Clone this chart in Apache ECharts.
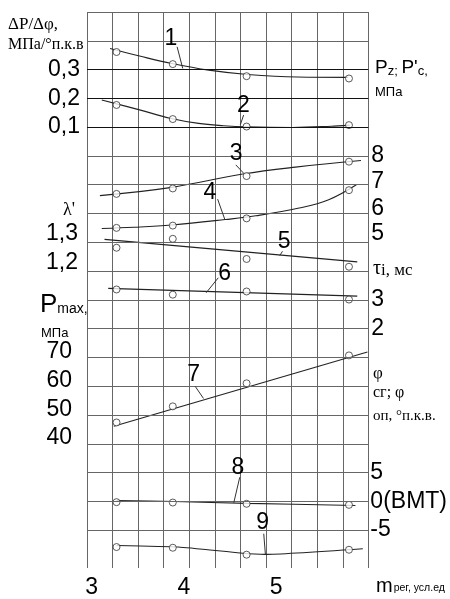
<!DOCTYPE html>
<html><head><meta charset="utf-8">
<script src="https://cdn.jsdelivr.net/npm/echarts@6/dist/echarts.min.js"></script>
<style>html,body{margin:0;padding:0;background:#fff}#c{width:450px;height:599px}</style>
</head><body><div id="c"></div>
<script>
// ---------------- data ----------------
const mReg = [3.27, 3.88, 4.68, 5.79];            // experimental points, m рег
const xTicks = [3, 4, 5];
const dpTicks = [0.3, 0.2, 0.1];                   // ΔP/Δφ, МПа/°п.к.в
const lambdaTicks = [1.3, 1.2];                    // λ'
const pmaxTicks = [70, 60, 50, 40];                // Pmax, МПа
const rightTicks = [8, 7, 6, 5, 3, 2];             // Pz; P'c ... τi
const phiTicks = [5, 0, -5];                       // φ сг; φ оп
const phiTickText = {'5': '5', '0': '0(ВМТ)', '-5': '-5'};

// curve 1, 2 (ΔP/Δφ scale)
const c1Pts = [0.361, 0.319, 0.277, 0.269];
const c1FitM = [3.20, 3.52, 3.87, 4.27, 4.69, 5.23, 5.78];
const c1Fit = [0.373, 0.347, 0.321, 0.298, 0.283, 0.274, 0.273];
const c2Pts = [0.177, 0.128, 0.102, 0.107];
const c2FitM = [3.11, 3.52, 3.85, 4.16, 4.43, 4.68, 5.18, 5.60, 5.80];
const c2Fit = [0.194, 0.160, 0.131, 0.113, 0.105, 0.101, 0.099, 0.103, 0.107];
// curve 3, 4, 6 (right scale)
const c3Pts = [6.68, 6.87, 7.30, 7.80];
const c3FitM = [3.09, 3.85, 4.64, 5.21, 5.92];
const c3Fit = [6.62, 6.90, 7.37, 7.61, 7.84];
const c4Pts = [5.50, 5.58, 5.83, 6.81];
const c4FitM = [3.11, 3.46, 3.87, 4.45, 4.78, 5.25, 5.57, 5.87];
const c4Fit = [5.48, 5.52, 5.60, 5.79, 5.92, 6.19, 6.48, 7.00];
const c6Pts = [3.36, 3.18, 3.29, 3.01];
const c6FitM = [3.18, 5.88];
const c6Fit = [3.40, 3.13];
// curve 5 (λ')
const c5Pts = [1.251, 1.282, 1.212, 1.185];
const c5FitM = [3.14, 5.88];
const c5Fit = [1.280, 1.202];
// curve 7 (Pmax)
const c7Pts = [45.4, 51.0, 59.0, 68.7];
const c7FitM = [3.24, 5.99];
const c7Fit = [44.1, 69.9];
// curve 8, 9 (φ)
const c8Pts = [-0.14, -0.21, -0.43, -0.61];
const c8FitM = [3.27, 3.90, 4.69, 5.86];
const c8Fit = [0.13, -0.04, -0.35, -0.73];
const c9Pts = [-7.94, -8.06, -9.27, -8.41];
const c9FitM = [3.27, 3.94, 4.61, 4.88, 5.94];
const c9Fit = [-7.66, -7.94, -8.97, -9.22, -8.23];

// ---------------- layout ----------------
const SANS = '"Liberation Sans", Arial, sans-serif';
const SERIF = '"Liberation Serif", "Times New Roman", serif';
const ROWS = 19.316;                       // grid height in cells (last cell is taller)
const gridRows = [0,1,2,3,4,5,6,7,8,9,10,11,12,13,14,15,16,17,18];
const boldRows = [2,3,4];
const rightShift = {7: 3, 6: 5, 5: 9};     // label nudges (px) as in the original

// axis index map: 0 rows, 1 dp, 2 lambda, 3 pmax, 4 right, 5 phi
const AX = {rows: 0, dp: 1, lambda: 2, pmax: 3, right: 4, phi: 5};

// curve tags: text anchor and leader line (in the curve's own units)
const tags = [
  {n: '1', at: [3.86, 0.409], from: [3.927, 0.379], to: [3.988, 0.304]},
  {n: '2', at: [4.646, 0.175], from: [4.648, 0.142], to: [4.612, 0.108]},
  {n: '3', at: [4.567, 8.07], from: [4.563, 7.69], to: [4.648, 7.40]},
  {n: '4', at: [4.282, 6.72], from: [4.366, 6.50], to: [4.445, 5.785]},
  {n: '5', at: [5.087, 1.2706], from: [5.069, 1.2387], to: [5.04, 1.2238]},
  {n: '6', at: [4.443, 3.897], from: [4.373, 3.766], to: [4.242, 3.246]},
  {n: '7', at: [4.106, 62.16], from: [4.124, 57.9], to: [4.213, 53.74]},
  {n: '8', at: [4.587, 5.89], from: [4.606, 4.19], to: [4.541, -0.26]},
  {n: '9', at: [4.855, -3.64], from: [4.866, -5.63], to: [4.884, -9.22]}
];

const curves = [
  {ax: 'dp', pts: c1Pts, fm: c1FitM, fv: c1Fit, smooth: 0.4},
  {ax: 'dp', pts: c2Pts, fm: c2FitM, fv: c2Fit, smooth: 0.4},
  {ax: 'right', pts: c3Pts, fm: c3FitM, fv: c3Fit, smooth: 0.4},
  {ax: 'right', pts: c4Pts, fm: c4FitM, fv: c4Fit, smooth: 0.4},
  {ax: 'lambda', pts: c5Pts, fm: c5FitM, fv: c5Fit, smooth: 0},
  {ax: 'right', pts: c6Pts, fm: c6FitM, fv: c6Fit, smooth: 0},
  {ax: 'pmax', pts: c7Pts, fm: c7FitM, fv: c7Fit, smooth: 0},
  {ax: 'phi', pts: c8Pts, fm: c8FitM, fv: c8Fit, smooth: 0.3},
  {ax: 'phi', pts: c9Pts, fm: c9FitM, fv: c9Fit, smooth: 0.15}
];

function zip(a, b) { return a.map((v, i) => [v, b[i]]); }

function labelAxis(min, max, pos, ticks, fmt, margin, rich) {
  return {
    type: 'value', min: Math.min(min, max), max: Math.max(min, max), position: pos, offset: 0,
    axisLine: {show: false}, axisTick: {show: false}, splitLine: {show: false},
    axisLabel: {
      show: true, customValues: ticks, formatter: fmt, margin: margin,
      fontSize: 23, fontFamily: SANS, color: '#000', rich: rich
    }
  };
}
const comma = v => String(v).replace('.', ',');
const richRight = {};
Object.keys(rightShift).forEach(k => {
  const s = rightShift[k];
  richRight['u' + s] = {fontSize: 23, fontFamily: SANS, color: '#000', padding: [0, 0, 2 * s, 0]};
});

const yAxis = [
  {type: 'value', inverse: true, min: 0, max: ROWS, show: false},
  labelAxis(0.3 + 0.2, 0.3 - (ROWS - 2) * 0.1, 'left', dpTicks, comma, 7),
  labelAxis(1.3 + 7.7 * 0.1, 1.3 - (ROWS - 7.7) * 0.1, 'left', lambdaTicks, comma, 9),
  labelAxis(70 + 11.8 * 10, 70 - (ROWS - 11.8) * 10, 'left', pmaxTicks, v => String(v), 15),
  labelAxis(8 + 5, 8 - (ROWS - 5), 'right', rightTicks,
    v => rightShift[v] ? '{u' + rightShift[v] + '|' + v + '}' : String(v), 3, richRight),
  labelAxis(5 + 16 * 5, 5 - (ROWS - 16) * 5, 'right', phiTicks, v => phiTickText[String(v)], 2)
];

const series = [];
// grid lines (horizontal) via markLine on the row axis
series.push({
  type: 'line', xAxisIndex: 1, yAxisIndex: AX.rows, data: [], silent: true,
  markLine: {
    silent: true, symbol: ['none', 'none'], animation: false, label: {show: false},
    data: gridRows.concat([ROWS]).map(r => ({
      yAxis: r,
      lineStyle: {color: boldRows.includes(r) ? '#111' : '#666', width: 1, type: 'solid'}
    }))
  }
});

curves.forEach((c, i) => {
  const t = tags[i];
  series.push({
    type: 'line', xAxisIndex: 0, yAxisIndex: AX[c.ax], data: zip(c.fm, c.fv),
    smooth: c.smooth, symbol: 'none', lineStyle: {color: '#222', width: 1.1}, z: 3,
    markPoint: {
      symbol: 'circle', symbolSize: 0, animation: false,
      label: {show: true, position: 'inside', formatter: t.n, fontSize: 23, fontFamily: SANS, color: '#000'},
      data: [{coord: t.at}]
    },
    markLine: {
      silent: true, symbol: ['none', 'none'], animation: false, label: {show: false},
      lineStyle: {color: '#333', width: 1, type: 'solid'},
      data: [[{coord: t.from}, {coord: t.to}]]
    }
  });
  series.push({
    type: 'scatter', xAxisIndex: 0, yAxisIndex: AX[c.ax], data: zip(mReg, c.pts),
    symbol: 'circle', symbolSize: 7, z: 4,
    itemStyle: {color: '#fff', borderColor: '#333', borderWidth: 1}
  });
});

const T = (x, y, text, font, extra) => ({
  type: 'text', x: x, y: y,
  style: Object.assign({text: text, font: font, fill: '#000', verticalAlign: 'middle', align: 'left'}, extra || {})
});

const graphic = [
  T(8, 25, 'ΔP/Δφ,', '17px ' + SERIF),
  T(8, 45, 'МПа/°п.к.в', '16px ' + SERIF),
  T(63, 210, "λ'", '18px ' + SERIF),
  T(40, 305, '{p|P}{s|max,}', '26px ' + SANS, {rich: {
    p: {fontSize: 26, fontFamily: SANS}, s: {fontSize: 14, fontFamily: SANS, padding: [9, 0, 0, 0]}}}),
  T(41, 333, 'МПа', '13px ' + SANS),
  T(375, 68, "{p|P}{s|z; }{p|P'}{s|c,}", '19px ' + SANS, {rich: {
    p: {fontSize: 19, fontFamily: SANS}, s: {fontSize: 13, fontFamily: SANS, padding: [6, 0, 0, 0]}}}),
  T(375, 92, 'МПа', '13px ' + SANS),
  T(373, 269, '{t|τ}{i|i, мс}', '19px ' + SERIF, {rich: {
    t: {fontSize: 20, fontFamily: SERIF}, i: {fontSize: 17, fontFamily: SERIF, padding: [3, 0, 0, 0]}}}),
  T(373, 374, 'φ', '17px ' + SERIF),
  T(373, 393, 'сг; φ', '16px ' + SERIF),
  T(373, 416, 'оп, °п.к.в.', '15px ' + SERIF),
  T(376, 586, '{m|m}{r|рег, усл.ед}', '20px ' + SANS, {rich: {
    m: {fontSize: 20, fontFamily: SANS}, r: {fontSize: 10.5, fontFamily: SANS, padding: [4, 0, 0, 1]}}})
];

const chart = echarts.init(document.getElementById('c'), null, {renderer: 'canvas'});
chart.setOption({
  animation: false,
  backgroundColor: '#fff',
  grid: {left: 87, top: 12, width: 285, height: 557.5, containLabel: false},
  xAxis: [
    {type: 'value', min: 2.95, max: 6.0, position: 'bottom',
     axisLine: {show: false}, axisTick: {show: false}, splitLine: {show: false},
     axisLabel: {customValues: xTicks, margin: 8, fontSize: 23, fontFamily: SANS, color: '#000'}},
    {type: 'value', min: 0, max: 11, interval: 1, position: 'bottom',
     axisLine: {show: false}, axisTick: {show: false}, axisLabel: {show: false},
     splitLine: {show: true, lineStyle: {color: '#666', width: 1}}}
  ],
  yAxis: yAxis,
  series: series,
  graphic: graphic
});
</script></body></html>
